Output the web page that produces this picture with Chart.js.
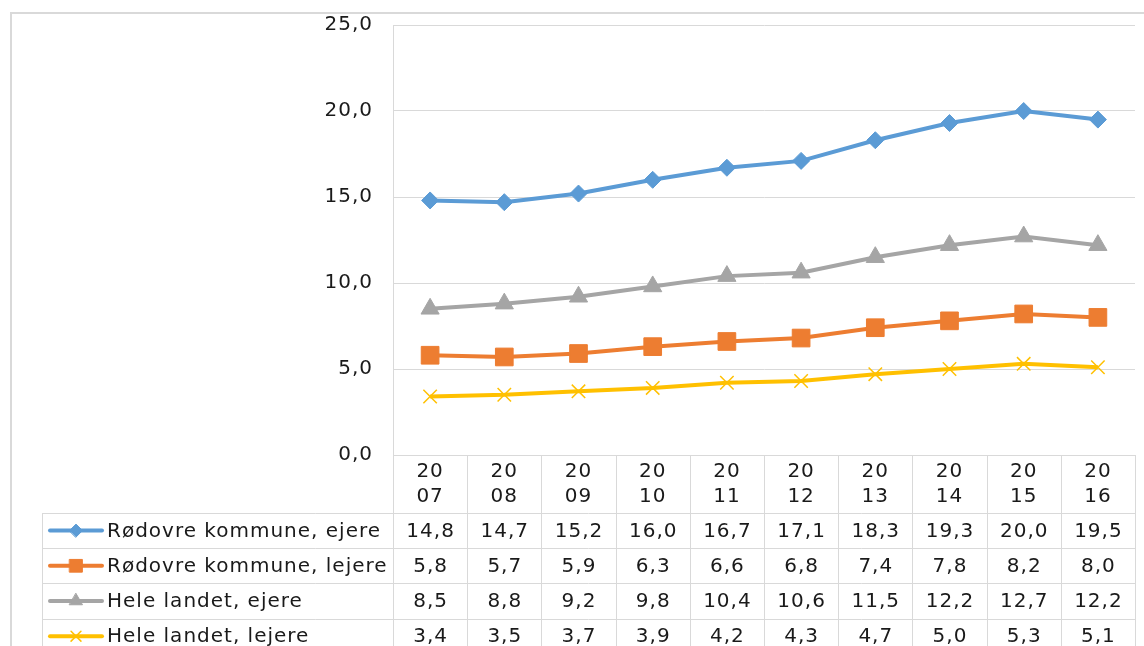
<!DOCTYPE html>
<html>
<head>
<meta charset="utf-8">
<script src="https://cdn.jsdelivr.net/npm/chart.js@4/dist/chart.umd.min.js"></script>
<style>
  html, body { margin: 0; padding: 0; background: #ffffff; }
  canvas { display: block; }
</style>
</head>
<body>
<canvas id="chart" width="1144" height="646"></canvas>
<script>
// Years on the category axis
const years = ['2007', '2008', '2009', '2010', '2011', '2012', '2013', '2014', '2015', '2016'];

// Series names (also shown in the data table)
const seriesNames = [
  'Rødovre kommune, ejere',
  'Rødovre kommune, lejere',
  'Hele landet, ejere',
  'Hele landet, lejere'
];

// Values per series
const rodovreEjere  = [14.8, 14.7, 15.2, 16.0, 16.7, 17.1, 18.3, 19.3, 20.0, 19.5];
const rodovreLejere = [5.8, 5.7, 5.9, 6.3, 6.6, 6.8, 7.4, 7.8, 8.2, 8.0];
const landetEjere   = [8.5, 8.8, 9.2, 9.8, 10.4, 10.6, 11.5, 12.2, 12.7, 12.2];
const landetLejere  = [3.4, 3.5, 3.7, 3.9, 4.2, 4.3, 4.7, 5.0, 5.3, 5.1];

// Value axis range
const yMin = 0;
const yMax = 25;
const yStep = 5;

const TEXT = '#1a1a1a';
const GRID = '#d9d9d9';
const FAMILY = '"DejaVu Sans", Verdana, sans-serif';
const FONT_SIZE = 20;
const TRACKING = '1px';
const HEADER_H = 58;   // header row of the data table (year labels)
const ROW_H = 35.2;    // data rows
const TABLE_LEFT = 42;

const fmt = v => v.toFixed(1).replace('.', ',');

const styles = [
  { color: '#5B9BD5', pointStyle: 'rectRot', radius: 8.5, legendRadius: 6.5 },
  { color: '#ED7D31', pointStyle: 'rect', radius: 12.5, legendRadius: 9 },
  { color: '#A5A5A5', pointStyle: 'triangle', radius: 10.5, legendRadius: 7.5 },
  { color: '#FFC000', pointStyle: 'crossRot', radius: 9.5, legendRadius: 7 }
];
const seriesValues = [rodovreEjere, rodovreLejere, landetEjere, landetLejere];

const datasets = seriesValues.map((vals, i) => ({
  label: seriesNames[i],
  data: vals,
  borderColor: styles[i].color,
  backgroundColor: styles[i].color,
  borderWidth: 4,
  pointStyle: styles[i].pointStyle,
  pointRadius: styles[i].radius,
  pointHoverRadius: styles[i].radius,
  pointBorderWidth: styles[i].pointStyle === 'crossRot' ? 1.5 : 1,
  pointBackgroundColor: styles[i].color,
  pointBorderColor: styles[i].color,
  tension: 0,
  fill: false,
  clip: 20
}));

// Axis boxes take exactly the space given to them
const fixPadding = s => { s.paddingTop = 0; s.paddingBottom = 0; s.paddingLeft = 0; s.paddingRight = 0; };

// Chart frame plus the data table under the plot
const tablePlugin = {
  id: 'dataTable',
  beforeDraw(chart) {
    const ctx = chart.ctx;
    ctx.letterSpacing = TRACKING;
    ctx.save();
    ctx.strokeStyle = GRID;
    ctx.lineWidth = 2;
    ctx.beginPath();
    ctx.moveTo(11, chart.height + 5);
    ctx.lineTo(11, 13);
    ctx.lineTo(chart.width + 5, 13);
    ctx.stroke();
    ctx.restore();
  },
  afterDraw(chart) {
    const ctx = chart.ctx;
    const a = chart.chartArea;
    const n = years.length;
    const colW = (a.right - a.left) / n;
    const top = a.bottom;
    const rowsTop = top + HEADER_H;
    const rowsBottom = rowsTop + ROW_H * seriesNames.length;
    const px = v => Math.round(v) + 0.5;

    ctx.save();
    ctx.strokeStyle = GRID;
    ctx.lineWidth = 1;
    ctx.beginPath();
    // column separators through header and data rows
    for (let k = 0; k <= n; k++) {
      const xx = px(a.left + k * colW);
      ctx.moveTo(xx, top);
      ctx.lineTo(xx, rowsBottom);
    }
    // left edge of the series-name column
    ctx.moveTo(px(TABLE_LEFT), rowsTop);
    ctx.lineTo(px(TABLE_LEFT), rowsBottom);
    // row separators
    for (let r = 0; r <= seriesNames.length; r++) {
      const yy = px(rowsTop + r * ROW_H);
      ctx.moveTo(TABLE_LEFT, yy);
      ctx.lineTo(a.right, yy);
    }
    ctx.stroke();

    ctx.font = FONT_SIZE + 'px ' + FAMILY;
    ctx.letterSpacing = TRACKING;
    ctx.fillStyle = TEXT;
    ctx.textBaseline = 'middle';

    seriesNames.forEach((name, r) => {
      const cy = rowsTop + r * ROW_H + ROW_H / 2;
      const st = styles[r];
      // legend key
      ctx.strokeStyle = st.color;
      ctx.lineWidth = 4;
      ctx.lineCap = 'round';
      ctx.beginPath();
      ctx.moveTo(50, cy);
      ctx.lineTo(102, cy);
      ctx.stroke();
      ctx.fillStyle = st.color;
      ctx.lineWidth = st.pointStyle === 'crossRot' ? 1.5 : 1;
      Chart.helpers.drawPoint(ctx, { pointStyle: st.pointStyle, radius: st.legendRadius, rotation: 0, borderWidth: ctx.lineWidth }, 76, cy);

      // name
      ctx.fillStyle = TEXT;
      ctx.textAlign = 'left';
      ctx.fillText(name, 107, cy + 1);

      // values
      ctx.textAlign = 'center';
      seriesValues[r].forEach((v, i) => {
        ctx.fillText(fmt(v), chart.scales.x.getPixelForValue(i) + 0.5, cy + 1);
      });
    });
    ctx.restore();
  }
};

new Chart(document.getElementById('chart'), {
  type: 'line',
  data: { labels: years, datasets },
  plugins: [tablePlugin],
  options: {
    responsive: false,
    devicePixelRatio: 1,
    animation: false,
    events: [],
    layout: {
      autoPadding: false,
      padding: { left: 0, top: 25, right: 9, bottom: 646 - 25 - 430 - HEADER_H }
    },
    plugins: { legend: { display: false }, tooltip: { enabled: false } },
    scales: {
      x: {
        offset: true,
        grid: { display: false, drawTicks: false },
        border: { display: false },
        ticks: {
          color: TEXT,
          font: { family: FAMILY, size: FONT_SIZE, lineHeight: 1.25 },
          padding: 4,
          maxRotation: 0,
          autoSkip: false,
          callback: (v, i) => [years[i].slice(0, 2), years[i].slice(2)]
        },
        afterFit: s => { s.height = HEADER_H; fixPadding(s); }
      },
      y: {
        min: yMin,
        max: yMax,
        grid: { color: GRID, lineWidth: 1, drawTicks: false },
        border: { display: true, color: GRID, width: 1 },
        ticks: {
          stepSize: yStep,
          color: TEXT,
          font: { family: FAMILY, size: FONT_SIZE },
          padding: 20,
          callback: v => fmt(v)
        },
        afterFit: s => { s.width = 393; fixPadding(s); }
      }
    }
  }
});
</script>
</body>
</html>
